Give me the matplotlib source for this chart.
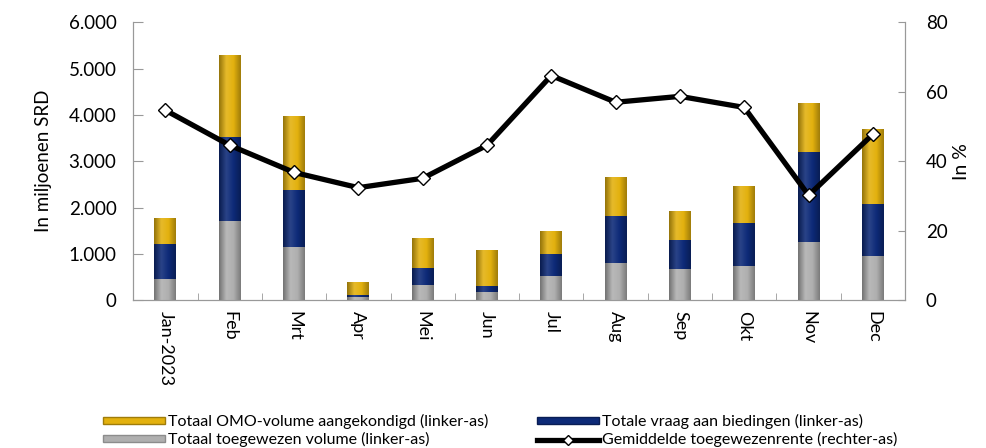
import matplotlib
matplotlib.use("Agg")
import matplotlib.pyplot as plt
import numpy as np
from matplotlib.colors import LinearSegmentedColormap
from matplotlib.lines import Line2D
from matplotlib.patches import Patch

plt.rcParams["font.family"] = ["Lato", "DejaVu Sans"]

months = ["Jan-2023", "Feb", "Mrt", "Apr", "Mei", "Jun",
          "Jul", "Aug", "Sep", "Okt", "Nov", "Dec"]
omo_volume = [1760, 5280, 3970, 370, 1320, 1080, 1470, 2640, 1920, 2460, 4240, 3680]
total_demand = [1190, 3500, 2370, 100, 670, 300, 980, 1810, 1280, 1660, 3190, 2060]
allotted = [450, 1690, 1140, 60, 310, 160, 500, 780, 650, 720, 1240, 930]
avg_rate = [54.7, 44.6, 36.8, 32.4, 35.1, 44.6, 64.7, 57.0, 58.7, 55.5, 30.2, 47.8]

GOLD = "#E3B10E"
BLUE = "#0D2A78"
GRAY = "#AFAFAF"
BAR_W = 0.34


def shade(color, f):
    c = np.array(matplotlib.colors.to_rgb(color))
    if f >= 0:
        return tuple(c + (1 - c) * f)
    return tuple(c * (1 + f))


def gradient_bars(ax, xs, heights, color, zorder):
    cmap = LinearSegmentedColormap.from_list(
        "g", [shade(color, -0.35), shade(color, 0.12), color, shade(color, -0.3)])
    grad = np.linspace(0, 1, 64).reshape(1, -1)
    for x, h in zip(xs, heights):
        ax.imshow(grad, cmap=cmap, aspect="auto", zorder=zorder,
                  extent=(x - BAR_W / 2, x + BAR_W / 2, 0, h),
                  interpolation="bicubic")


def add_legend(fig, handles, x0):
    fig.legend(handles=handles, loc="upper left", bbox_to_anchor=(x0, 1 - 414 / 448),
               frameon=False, fontsize=11.5, handlelength=3.9, handleheight=0.3,
               handletextpad=0.15, labelspacing=0.2, borderpad=0, borderaxespad=0)


def main():
    fig = plt.figure(figsize=(9.87, 4.48), dpi=100)
    ax = fig.add_axes([0.135, 0.330, 0.782, 0.620])
    x = np.arange(len(months))

    gradient_bars(ax, x, omo_volume, GOLD, 2)
    gradient_bars(ax, x, total_demand, BLUE, 3)
    gradient_bars(ax, x, allotted, GRAY, 4)

    ax.set_xlim(-0.5, len(months) - 0.5)
    ax.set_ylim(0, 6000)
    ax.set_yticks(np.arange(0, 6001, 1000))
    ax.set_yticklabels([f"{v:,.0f}".replace(",", ".") for v in range(0, 6001, 1000)])
    ax.set_xticks(x)
    ax.set_xticklabels(months, rotation=-90, fontsize=13)
    ax.set_xticks(np.arange(-0.5, len(months), 1), minor=True)
    ax.tick_params(axis="x", which="major", length=0, pad=8)
    ax.tick_params(axis="x", which="minor", direction="in", length=5, color="#999999")
    ax.tick_params(axis="y", direction="in", length=7, color="#999999", labelsize=13.5, pad=12)
    ax.set_ylabel("In miljoenen SRD", fontsize=13.5, labelpad=12)
    for side in ["left", "bottom", "right"]:
        ax.spines[side].set_color("#999999")
    ax.spines["top"].set_visible(False)

    ax2 = ax.twinx()
    ax2.plot(x, avg_rate, color="black", linewidth=3.8, marker="D", markersize=7,
             markerfacecolor="white", markeredgecolor="black", markeredgewidth=1, zorder=5)
    ax2.set_ylim(0, 80)
    ax2.set_yticks(np.arange(0, 81, 20))
    ax2.tick_params(axis="y", direction="in", length=5, color="#999999", labelsize=13.5, pad=15)
    ax2.set_ylabel("In %", fontsize=14, labelpad=4)
    for side in ["left", "bottom", "right"]:
        ax2.spines[side].set_color("#999999")
    ax2.spines["top"].set_visible(False)

    add_legend(fig, [
        Patch(facecolor=GOLD, edgecolor=shade(GOLD, -0.3), label="Totaal OMO-volume aangekondigd (linker-as)"),
        Patch(facecolor=GRAY, edgecolor=shade(GRAY, -0.2), label="Totaal toegewezen volume (linker-as)"),
    ], 103 / 987)
    add_legend(fig, [
        Patch(facecolor=BLUE, edgecolor=shade(BLUE, -0.3), label="Totale vraag aan biedingen (linker-as)"),
        Line2D([0], [0], color="black", linewidth=3.8, marker="D", markersize=5,
               markerfacecolor="white", markeredgecolor="black",
               label="Gemiddelde toegewezenrente (rechter-as)"),
    ], 537 / 987)

    fig.savefig("out.png", dpi=100)
    plt.close(fig)


if __name__ == "__main__":
    main()
